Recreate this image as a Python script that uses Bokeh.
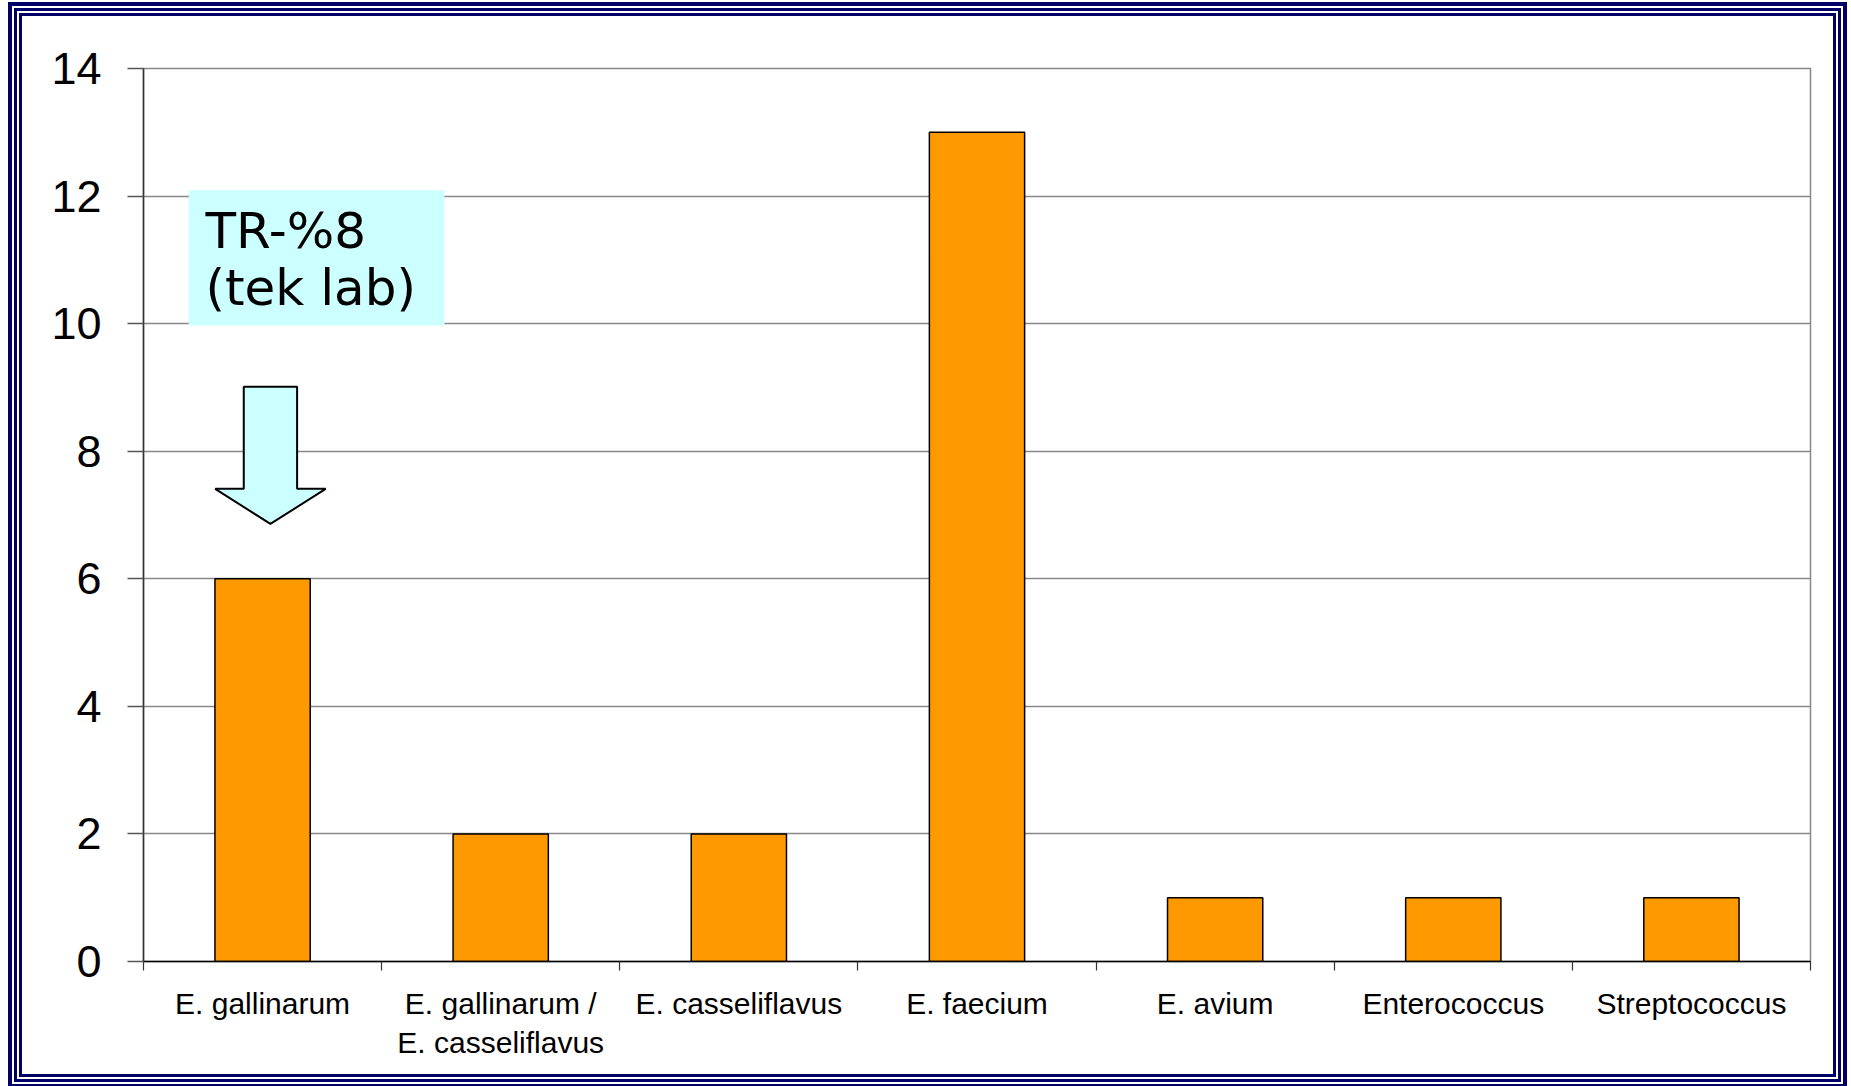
from bokeh.plotting import figure
from bokeh.models import Range1d, FixedTicker, Label, ColumnDataSource
from bokeh.embed import file_html
from bokeh.resources import INLINE

# Isolate counts by species
categories = [
    "E. gallinarum",
    "E. gallinarum /\nE. casseliflavus",
    "E. casseliflavus",
    "E. faecium",
    "E. avium",
    "Enterococcus",
    "Streptococcus",
]
counts = [6, 2, 2, 13, 1, 1, 1]
y_ticks = [0, 2, 4, 6, 8, 10, 12, 14]

note_text = "TR-%8\n(tek lab)"

positions = [i + 0.5 for i in range(len(categories))]

navy = "#000066"
# triple navy frame drawn as rings around the figure
frame_rings = ", ".join([
    f"0 0 0 3px {navy}",
    "0 0 0 5px white",
    f"0 0 0 8px {navy}",
    "0 0 0 10px white",
    f"0 0 0 14px {navy}",
])

p = figure(
    width=1811, height=1058,
    x_range=Range1d(0, len(categories)), y_range=Range1d(0, 14),
    output_backend="svg", toolbar_location=None,
    min_border_left=121, min_border_right=23,
    min_border_top=52, min_border_bottom=113,
    background_fill_color="white", border_fill_color="white",
    styles={"margin-left": "22px", "margin-top": "16px",
            "box-shadow": frame_rings},
)
p.outline_line_color = "#888888"
p.outline_line_width = 1.5

# grid
p.xgrid.visible = False
p.ygrid.ticker = FixedTicker(ticks=y_ticks)
p.ygrid.grid_line_color = "#888888"
p.ygrid.grid_line_width = 1.3

# y axis
ya = p.yaxis[0]
ya.ticker = FixedTicker(ticks=y_ticks)
ya.axis_line_color = "#333333"
ya.axis_line_width = 1.5
ya.major_tick_line_color = "#555555"
ya.major_tick_line_width = 1.5
ya.major_tick_out = 16
ya.major_tick_in = 0
ya.minor_tick_line_color = None
ya.major_label_standoff = 26
ya.major_label_text_font = "Liberation Sans"
ya.major_label_text_font_size = "45px"
ya.major_label_text_color = "black"

# x axis: labels centred under bars, tick marks at category boundaries
xa = p.xaxis[0]
xa.ticker = FixedTicker(ticks=positions, minor_ticks=list(range(len(categories) + 1)))
xa.major_label_overrides = {pos: name for pos, name in zip(positions, categories)}
xa.axis_line_color = "black"
xa.axis_line_width = 1.5
xa.major_tick_line_color = None
xa.major_tick_out = 0
xa.major_tick_in = 0
xa.minor_tick_line_color = "#333333"
xa.minor_tick_line_width = 1.2
xa.minor_tick_out = 9
xa.minor_tick_in = 0
xa.major_label_standoff = 16
xa.major_label_text_font = "Liberation Sans"
xa.major_label_text_font_size = "30px"
xa.major_label_text_color = "black"
xa.major_label_orientation = "horizontal"

# bars
src = ColumnDataSource(dict(x=positions, top=counts))
p.vbar(x="x", top="top", width=0.4, source=src,
       fill_color="#FF9900", line_color="black", line_width=1.5)

# callout box with note
p.quad(left=0.19, right=1.264, bottom=9.97, top=12.09,
       fill_color="#CCFFFF", line_color=None)
p.add_layout(Label(x=0.26, y=11.9, text=note_text,
                   text_font="DejaVu Sans", text_font_size="50px",
                   text_color="black", text_baseline="top", text_align="left",
                   text_line_height=0.98))

# down arrow pointing at the first bar
ax_c, shaft_hw, head_hw = 0.533, 0.112, 0.232
tip_y, head_y, shaft_top = 6.86, 7.41, 9.01
arrow_x = [ax_c - shaft_hw, ax_c + shaft_hw, ax_c + shaft_hw, ax_c + head_hw,
           ax_c, ax_c - head_hw, ax_c - shaft_hw]
arrow_y = [shaft_top, shaft_top, head_y, head_y, tip_y, head_y, head_y]
p.patch(arrow_x, arrow_y, fill_color="#CCFFFF", line_color="black", line_width=2)

open("out.html", "w").write(file_html(p, INLINE))
